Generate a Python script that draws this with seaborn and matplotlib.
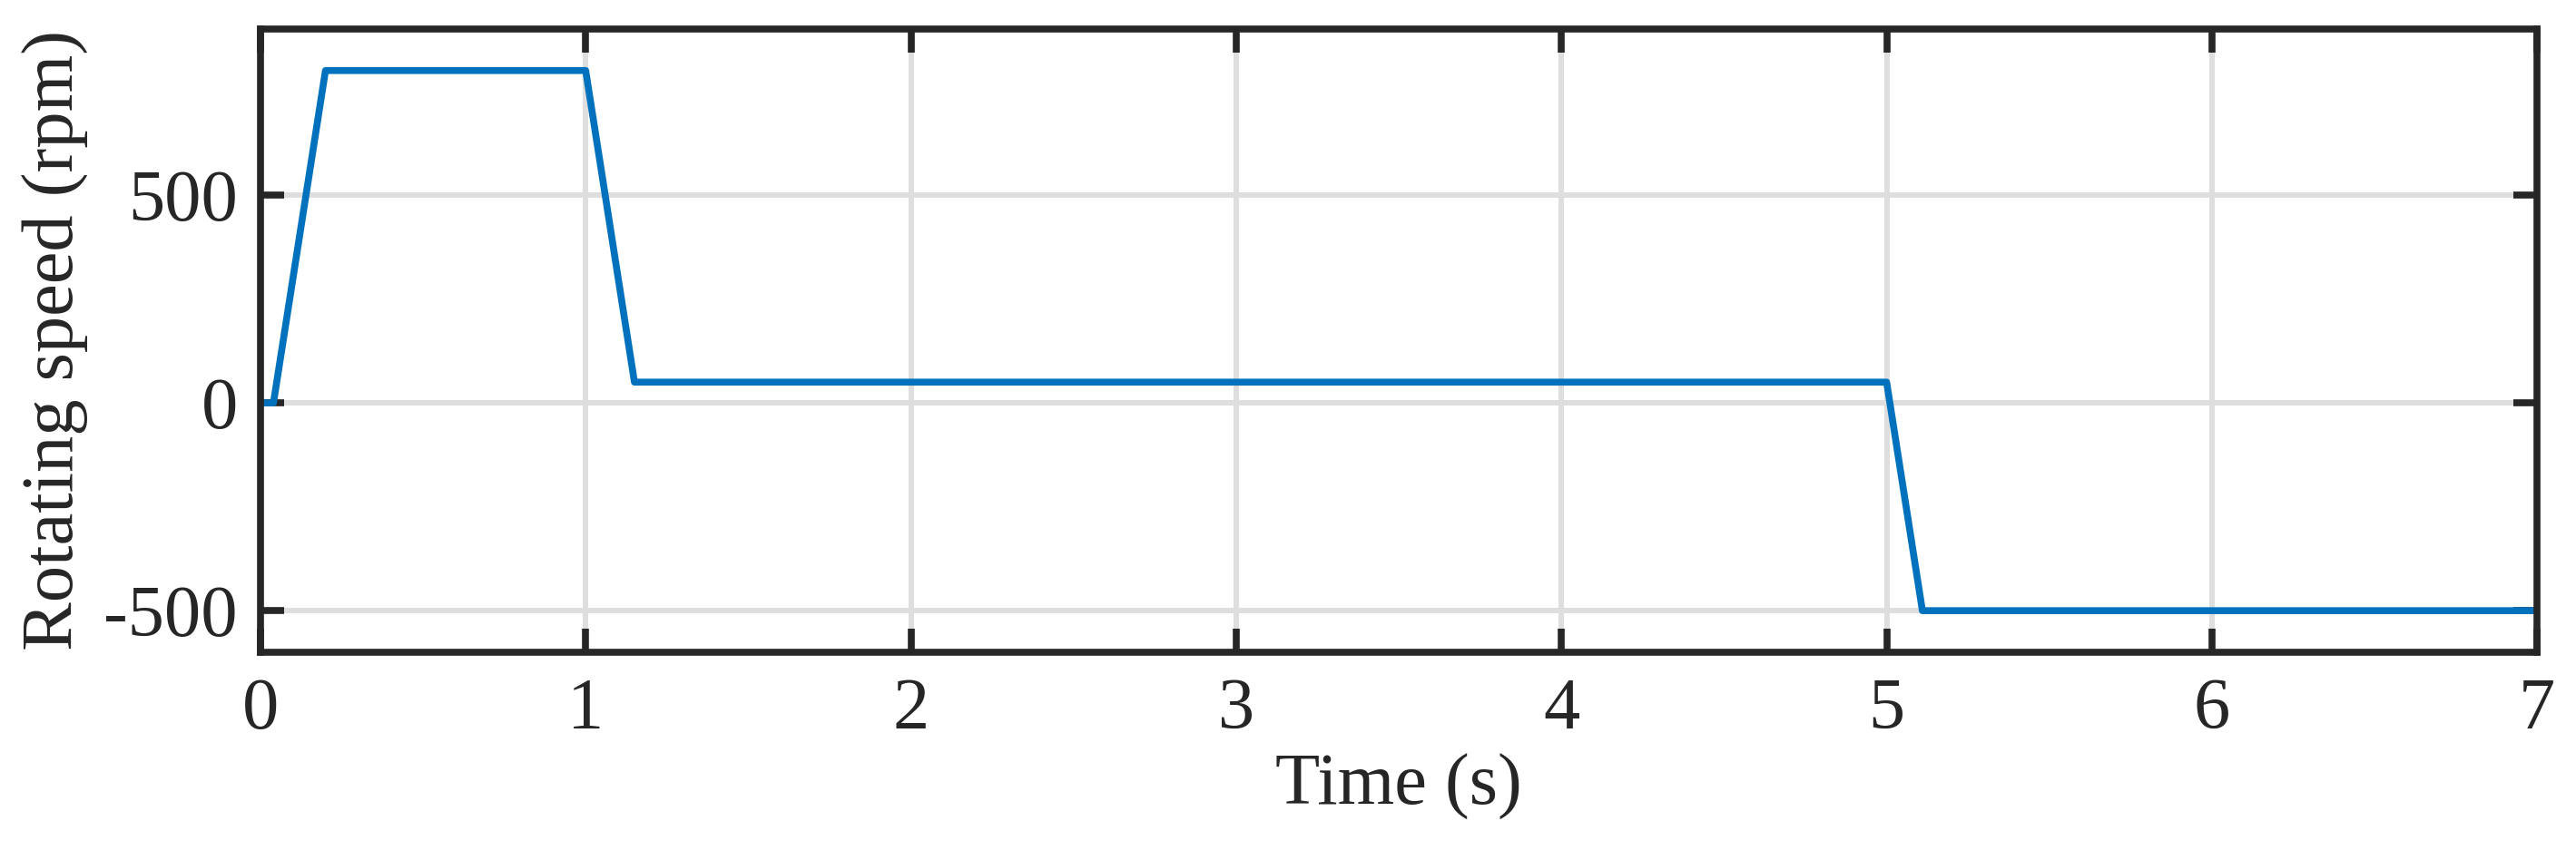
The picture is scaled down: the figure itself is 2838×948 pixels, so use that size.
import numpy as np
import pandas as pd
import matplotlib
matplotlib.use("Agg")
import matplotlib.pyplot as plt
import seaborn as sns

# Data
time_s = [0.0, 0.04, 0.20, 1.00, 1.15, 5.00, 5.11, 7.00]
speed_rpm = [0, 0, 800, 800, 50, 50, -500, -500]
x_ticks = [0, 1, 2, 3, 4, 5, 6, 7]
y_ticks = [-500, 0, 500]
y_tick_labels = ["-500", "0", "500"]

sns.set_style("ticks")
plt.rcParams["font.family"] = ["Liberation Serif", "DejaVu Serif"]
plt.rcParams["mathtext.fontset"] = "stix"

fig = plt.figure(figsize=(28.38, 9.48), dpi=100)
ax = fig.add_axes([0.1011, 0.2416, 0.9849 - 0.1011, 0.9663 - 0.2416])

df = pd.DataFrame({"Time (s)": time_s, "Rotating speed (rpm)": speed_rpm})
sns.lineplot(data=df, x="Time (s)", y="Rotating speed (rpm)", ax=ax,
             color="#0072BD", linewidth=5.5, sort=False, estimator=None, zorder=3)

ax.set_xlim(0, 7)
ax.set_ylim(-600, 900)
ax.set_xticks(x_ticks)
ax.set_xticklabels([str(v) for v in x_ticks])
ax.set_yticks(y_ticks)
ax.set_yticklabels(y_tick_labels)

ax.grid(True, color="#DEDEDE", linewidth=4.3, zorder=0)
ax.set_axisbelow(True)

for sp in ax.spines.values():
    sp.set_visible(True)
    sp.set_color("#262626")
    sp.set_linewidth(5.5)
    sp.set_zorder(4)

ax.tick_params(axis="both", which="major", direction="in", length=19, width=5.5,
               color="#262626", labelsize=58, labelcolor="#262626",
               top=True, right=True)
ax.tick_params(axis="x", pad=20)
ax.tick_params(axis="y", pad=18)

ax.set_xlabel("Time (s)", fontsize=58, color="#262626", labelpad=8)
ax.set_ylabel("Rotating speed (rpm)", fontsize=58, color="#262626", labelpad=12)

fig.savefig("out.png", dpi=100, facecolor="white")
